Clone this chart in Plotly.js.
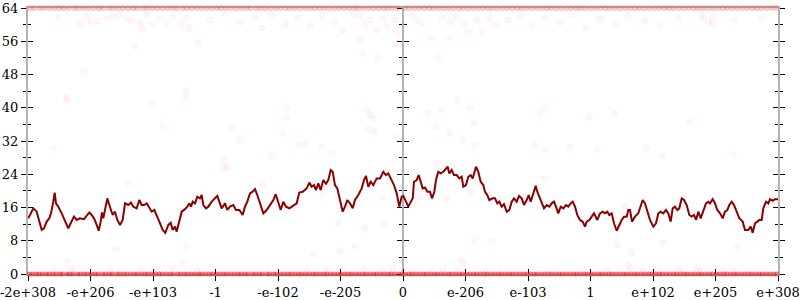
<!DOCTYPE html>
<html>
<head>
<meta charset="utf-8">
<script src="https://cdn.plot.ly/plotly-3.0.1.min.js"></script>
<style>html,body{margin:0;padding:0;background:#fff;}#chart{width:800px;height:300px;}</style>
</head>
<body>
<div id="chart"></div>
<script>
// x axis: position index of each tick and its label
const xTickVals = [-6,-5,-4,-3,-2,-1,0,1,2,3,4,5,6];
const xTickText = ["-2e+308","-e+206","-e+103","-1","-e-102","-e-205","0","e-206","e-103","1","e+102","e+205","e+308"];

// running average (dark red line)
const lineX = [-5.995,-5.915,-5.861,-5.835,-5.781,-5.744,-5.701,-5.659,-5.632,-5.595,-5.573,-5.552,-5.515,-5.461,-5.408,-5.355,-5.317,-5.264,-5.221,-5.168,-5.104,-5.061,-5.019,-4.981,-4.944,-4.901,-4.869,-4.837,-4.816,-4.795,-4.768,-4.731,-4.699,-4.677,-4.645,-4.608,-4.571,-4.528,-4.485,-4.448,-4.395,-4.352,-4.315,-4.261,-4.219,-4.181,-4.144,-4.101,-4.059,-4.021,-3.979,-3.941,-3.899,-3.845,-3.803,-3.755,-3.717,-3.685,-3.648,-3.621,-3.579,-3.541,-3.488,-3.451,-3.419,-3.392,-3.365,-3.328,-3.291,-3.248,-3.221,-3.195,-3.152,-3.115,-3.061,-3.024,
 -2.971,-2.939,-2.901,-2.848,-2.811,-2.768,-2.715,-2.672,-2.619,-2.565,-2.528,-2.491,-2.448,-2.405,-2.368,-2.331,-2.288,-2.235,-2.181,-2.128,-2.075,-2.037,-1.995,-1.957,-1.915,-1.872,-1.819,-1.755,-1.701,-1.659,-1.605,-1.541,-1.499,-1.461,-1.424,-1.392,-1.355,-1.317,-1.275,-1.232,-1.195,-1.157,-1.125,-1.088,-1.051,-1.008,-0.965,-0.928,-0.891,-0.848,-0.805,-0.768,-0.715,-0.661,-0.624,-0.592,-0.555,-0.517,-0.475,-0.421,-0.368,-0.315,-0.272,-0.235,-0.181,-0.144,-0.101,-0.059,-0.021,
 0.005,0.048,0.085,0.112,0.155,0.176,0.219,0.251,0.283,0.315,0.352,0.389,0.432,0.464,0.501,0.528,0.565,0.603,0.645,0.688,0.715,0.741,0.779,0.816,0.859,0.901,0.939,0.965,1.008,1.045,1.083,1.115,1.147,1.168,1.205,1.243,1.285,1.312,1.349,1.381,1.435,1.472,1.509,1.541,1.579,1.616,1.659,1.701,1.739,1.776,1.819,1.856,1.899,1.936,1.979,2.011,2.043,2.085,2.123,2.149,2.181,2.219,2.256,2.299,2.341,2.379,2.416,2.448,2.485,2.523,2.565,2.608,2.645,2.683,2.715,2.752,2.789,2.832,2.875,2.912,2.939,2.981,3.019,3.056,
 3.109,3.152,3.195,3.232,3.269,3.301,3.339,3.376,3.419,3.461,3.499,3.536,3.579,3.605,3.632,3.664,3.712,3.765,3.803,3.835,3.872,3.909,3.952,4.005,4.048,4.085,4.123,4.165,4.208,4.245,4.283,4.315,4.352,4.389,4.421,4.459,4.496,4.539,4.581,4.619,4.656,4.688,4.725,4.763,4.805,4.848,4.885,4.912,4.955,4.992,5.029,5.072,5.115,5.152,5.189,5.221,5.259,5.296,5.339,5.381,5.435,5.472,5.525,5.563,5.595,5.632,5.669,5.701,5.739,5.765,5.808,5.845,5.872,5.915,5.952,6.0];
const lineY = [13.4,15.8,15.0,13.4,10.6,11.0,12.6,13.4,14.6,17.4,19.6,17.0,16.2,14.6,13.0,11.0,12.2,13.8,13.0,13.4,13.2,14.0,14.8,14.2,13.4,11.8,10.4,12.6,14.8,13.4,15.4,18.2,16.6,15.4,14.2,15.0,13.0,11.8,13.0,17.0,16.6,17.2,16.2,15.8,17.8,16.6,16.6,17.0,15.8,15.0,15.4,14.2,12.6,10.6,9.9,11.8,12.3,10.6,11.4,10.2,13.0,15.0,15.6,16.2,17.0,16.2,17.4,17.0,18.6,18.2,19.0,16.6,15.8,16.2,17.4,18.0,
 18.8,17.4,15.8,17.0,15.4,16.2,16.6,15.4,15.4,14.2,16.2,17.4,19.4,19.8,20.4,19.0,17.0,14.6,15.4,16.6,17.8,19.2,17.4,15.4,17.4,16.2,15.8,16.4,17.0,19.6,19.8,20.6,22.0,21.0,21.4,20.2,21.8,20.2,22.6,21.7,22.6,25.0,24.6,21.4,20.6,17.8,15.0,16.2,17.8,17.0,15.8,17.8,19.0,20.6,22.6,23.6,21.0,22.2,21.4,23.0,23.0,24.6,23.8,24.2,22.6,21.4,19.4,16.2,18.6,
 18.8,17.4,16.2,17.0,18.2,22.2,22.6,23.8,22.2,20.6,20.8,19.8,19.8,18.2,19.8,22.6,24.6,24.2,24.6,25.4,25.8,24.2,25.0,23.8,23.8,23.0,23.4,21.0,21.4,23.4,23.8,23.0,25.0,25.8,24.6,22.2,21.4,19.8,19.0,17.8,18.2,18.2,17.0,17.4,16.2,16.8,15.0,15.4,17.4,18.2,17.4,18.8,18.2,16.6,17.8,19.0,17.4,19.2,21.2,19.8,18.6,17.4,15.8,16.6,16.2,17.0,17.4,16.2,14.6,16.2,15.8,16.6,16.2,17.0,17.4,16.2,14.2,13.0,12.6,11.4,12.6,13.0,13.8,14.6,
 13.0,14.6,15.0,14.6,15.0,14.2,14.6,12.2,10.4,11.8,13.0,13.8,13.8,15.4,15.4,12.6,13.8,14.6,16.2,17.8,17.0,15.0,13.0,11.4,12.2,14.6,15.0,14.6,15.4,14.6,12.6,15.8,16.2,15.4,15.8,18.2,17.8,16.6,14.2,13.8,14.2,13.0,15.0,13.4,15.4,17.0,17.4,17.0,18.0,17.0,15.4,14.6,13.4,15.0,15.4,16.6,17.4,16.6,15.0,13.4,12.6,10.6,10.6,11.4,9.9,12.2,12.6,13.0,13.0,15.8,17.4,17.0,18.0,17.6,18.0,18.0];

// samples that sit exactly at 0 and at 64
const zeroX = [-5.98,-5.93,-5.87,-5.82,-5.77,-5.71,-5.66,-5.6,-5.55,-5.49,-5.45,-5.38,-5.33,-5.28,-5.21,-5.16,-5.1,-5.05,-4.99,-4.93,-4.88,-4.81,-4.76,-4.7,-4.65,-4.58,-4.53,-4.47,-4.42,-4.36,-4.3,-4.25,-4.19,-4.13,-4.08,-4.02,-3.96,-3.9,-3.85,-3.79,-3.73,-3.68,-3.61,-3.56,-3.5,-3.45,-3.39,-3.33,-3.27,-3.22,-3.16,-3.1,-3.05,-2.99,-2.93,-2.87,-2.82,-2.76,-2.7,-2.64,-2.59,-2.53,-2.48,-2.41,-2.36,-2.3,-2.25,-2.18,-2.13,-2.07,-2.02,-1.96,-1.9,-1.84,-1.79,-1.73,-1.67,-1.62,-1.56,-1.5,-1.44,-1.39,-1.33,-1.27,-1.22,-1.16,-1.1,-1.04,-0.99,-0.93,-0.87,-0.82,-0.76,-0.7,-0.64,-0.59,-0.53,-0.47,-0.42,-0.36,-0.3,-0.24,-0.19,-0.13,-0.07,-0.02,0.04,0.1,0.15,0.21,0.27,0.33,0.38,0.44,0.5,0.55,0.61,0.67,0.73,0.78,0.84,0.9,0.95,1.01,1.07,1.13,1.18,1.24,1.3,1.35,1.41,1.47,1.53,1.58,1.64,1.7,1.75,1.81,1.87,1.93,1.98,2.04,2.1,2.15,2.21,2.27,2.33,2.38,2.44,2.5,2.55,2.61,2.67,2.73,2.78,2.84,2.9,2.95,3.01,3.07,3.13,3.18,3.24,3.3,3.35,3.41,3.47,3.53,3.58,3.64,3.7,3.75,3.81,3.87,3.93,3.98,4.04,4.1,4.15,4.21,4.27,4.33,4.38,4.44,4.5,4.55,4.61,4.67,4.73,4.78,4.84,4.9,4.95,5.01,5.07,5.13,5.18,5.24,5.3,5.35,5.41,5.47,5.53,5.58,5.64,5.7,5.75,5.81,5.87,5.93,5.98];
const fullX = [-5.97,-5.9,-5.81,-5.74,-5.66,-5.58,-5.5,-5.43,-5.35,-5.26,-5.19,-5.11,-5.03,-4.95,-4.87,-4.8,-4.71,-4.64,-4.56,-4.48,-4.4,-4.32,-4.25,-4.16,-4.09,-4.01,-3.93,-3.85,-3.77,-3.69,-3.62,-3.53,-3.46,-3.38,-3.3,-3.22,-3.14,-3.06,-2.98,-2.91,-2.83,-2.75,-2.67,-2.59,-2.51,-2.44,-2.35,-2.28,-2.2,-2.12,-2.04,-1.96,-1.88,-1.81,-1.73,-1.65,-1.57,-1.49,-1.41,-1.33,-1.26,-1.18,-1.1,-1.02,-0.94,-0.86,-0.78,-0.71,-0.63,-0.55,-0.47,-0.39,-0.31,-0.24,-0.16,-0.08,0.03,0.1,0.18,0.26,0.34,0.42,0.49,0.57,0.65,0.73,0.81,0.89,0.96,1.04,1.12,1.2,1.28,1.36,1.43,1.51,1.59,1.67,1.75,1.83,1.9,1.98,2.06,2.14,2.22,2.3,2.37,2.45,2.53,2.61,2.69,2.77,2.84,2.92,3.0,3.08,3.16,3.24,3.31,3.39,3.47,3.55,3.63,3.71,3.78,3.86,3.94,4.02,4.1,4.18,4.25,4.33,4.41,4.49,4.57,4.65,4.72,4.8,4.88,4.96,5.04,5.12,5.19,5.27,5.35,5.43,5.51,5.59,5.66,5.74,5.82,5.9,5.97];

// other individual samples (faint dots)
const dotX = [-5.515,-5.168,-5.056,-4.997,-4.88,-4.741,-4.64,-4.544,-4.421,-4.341,-4.288,-4.208,-4.165,-4.101,-3.995,-3.888,-3.781,-3.675,-3.541,-3.461,-3.419,-3.275,-5.104,-5.381,-3.472,-3.472,
 -0.795,-0.688,-0.608,-0.528,-0.421,-0.315,-0.261,-0.128,-0.101,0.032,0.139,0.219,0.299,0.459,0.565,0.619,0.725,0.752,0.859,0.992,1.045,1.179,1.259,1.392,1.499,-0.688,-0.635,-0.101,-0.4,
 -3.088,-2.848,-2.608,-2.368,-2.256,-2.096,-1.888,-1.68,-1.488,-1.296,-1.088,-0.96,1.68,1.872,2.064,2.272,2.512,2.704,2.912,3.152,3.392,3.6,3.872,4.112,4.4,4.779,4.805,4.885,4.939,4.965,5.312,5.739,
 -5.595,-5.381,-4.395,-4.021,-3.835,-2.875,-2.864,-2.821,-2.741,-2.608,-2.235,-2.101,-1.925,-1.861,-1.861,-1.675,-1.568,-1.301,-1.275,-1.141,-0.581,-0.528,-0.475,-0.555,-0.448,-0.315,-0.101,0.405,0.619,0.859,1.072,0.523,0.741,1.136,0.955,1.152,0.555,0.272,0.699,1.083,2.112,2.256,2.256,2.192,2.256,2.672,2.981,3.099,3.392,3.888,4.155,4.592,5.285,3.557,
 -4.581,-5.381,-3.461,-3.525,-1.035,-1.008,-0.768,-1.435,-0.608,-0.315,1.152,1.419,0.965,0.939,3.419,3.659,4.165,5.339,3.605,4.699,
 -5.595,-5.301,-4.688,-4.181,-3.941,-3.675,-3.301,-1.541,-1.221,-0.955,-0.635,-0.341,-0.155,0.165,0.459,0.645,0.859,1.312,3.259,3.632,3.845,4.112,4.432,4.752,5.125,5.285];
const dotY = [61.8,60.2,61.9,60.7,60.9,61.5,61.9,62.3,61.5,60.9,54.9,60.3,59.1,62.3,60.2,61.5,60.3,61.9,60.2,61.9,59.1,55.5,48.7,42.5,44.1,42.5,
 62.3,61.9,59.9,61.1,58.7,61.5,59.5,61.1,57.9,59.9,62.3,61.1,60.3,56.7,52.3,61.9,56.7,60.7,61.9,60.3,58.3,61.1,58.3,61.5,59.9,56.3,53.1,55.5,52.0,
 61.1,62.6,60.6,61.8,59.2,62.3,60.2,61.6,59.7,62.1,60.6,58.7,61.1,62.1,59.7,61.6,60.6,62.3,59.2,61.4,60.2,62.1,60.9,59.7,61.6,62.3,61.5,60.7,60.2,61.9,61.1,61.5,
 30.4,41.9,21.8,41.1,35.3,27.6,25.7,25.7,35.4,32.2,21.4,28.4,33.9,37.7,39.9,31.0,31.4,30.6,19.4,29.0,39.6,38.3,37.5,34.8,34.2,18.2,33.0,38.7,39.6,41.9,39.9,35.3,33.9,36.3,32.4,30.8,26.5,18.5,18.0,19.4,30.9,29.7,22.9,38.7,39.9,30.5,37.7,30.0,38.5,30.2,28.4,36.6,28.6,16.4,
 5.9,3.0,6.6,2.6,12.2,5.4,6.6,4.8,11.0,12.0,8.2,7.8,2.6,3.4,7.0,5.1,7.5,6.6,2.2,1.4,
 1.0,1.2,0.8,1.1,0.9,1.3,0.7,1.0,1.2,0.8,1.1,0.9,1.3,0.7,1.0,1.2,0.8,1.1,0.9,1.3,0.7,1.0,1.2,0.8,1.1,0.9];

const FONT = {family: 'DejaVu Serif', size: 13, color: '#000'};
const AXIS_GRAY = '#b4b4b4';

const traces = [
  {type: 'scatter', mode: 'markers', x: dotX, y: dotY, hoverinfo: 'skip', showlegend: false,
   marker: {size: 6, color: 'rgba(255,0,0,0.03)', line: {width: 1, color: 'rgba(255,0,0,0.045)'}}},
  {type: 'scatter', mode: 'markers', x: fullX, y: fullX.map(() => 64), hoverinfo: 'skip', showlegend: false, cliponaxis: false,
   marker: {size: 6, color: 'rgba(240,40,40,0.25)', line: {width: 0}}},
  {type: 'scatter', mode: 'markers', x: zeroX, y: zeroX.map(() => 0), hoverinfo: 'skip', showlegend: false, cliponaxis: false,
   marker: {size: 5, color: 'rgba(225,20,20,0.55)', line: {width: 0}}},
  {type: 'scatter', mode: 'lines', x: lineX, y: lineY, hoverinfo: 'skip', showlegend: false,
   line: {color: '#8b0000', width: 2}},
  {type: 'scatter', x: [], y: [], xaxis: 'x2', yaxis: 'y', showlegend: false},
  {type: 'scatter', x: [], y: [], xaxis: 'x', yaxis: 'y2', showlegend: false},
  {type: 'scatter', x: [], y: [], xaxis: 'x', yaxis: 'y3', showlegend: false},
  {type: 'scatter', x: [], y: [], xaxis: 'x', yaxis: 'y4', showlegend: false},
  {type: 'scatter', x: [], y: [], xaxis: 'x', yaxis: 'y5', showlegend: false},
  {type: 'scatter', x: [], y: [], xaxis: 'x', yaxis: 'y6', showlegend: false}
];

function yAx(extra) {
  return Object.assign({
    range: [0, 64], autorange: false, tick0: 0, dtick: 8, ticklen: 5, tickwidth: 1, tickcolor: '#000',
    showgrid: false, zeroline: false, showticklabels: false, fixedrange: true, layer: 'below traces'
  }, extra);
}
function minorT(dir) {
  return {tick0: 0, dtick: 4, ticks: dir, ticklen: 3, tickwidth: 1, tickcolor: '#000', showgrid: false};
}

const layout = {
  width: 800, height: 300,
  margin: {l: 28, r: 22, t: 8, b: 26, pad: 0},
  paper_bgcolor: '#fff', plot_bgcolor: '#fff',
  showlegend: false,
  font: FONT,
  xaxis: {range: [-6, 6], autorange: false, tickmode: 'array', tickvals: xTickVals, ticktext: xTickText,
    ticks: 'outside', ticklen: 5, tickwidth: 1, tickcolor: '#000', tickfont: FONT, ticklabeloverflow: 'allow',
    showline: true, linecolor: AXIS_GRAY, linewidth: 2, mirror: true,
    showgrid: false, zeroline: false, fixedrange: true, layer: 'below traces'},
  xaxis2: {overlaying: 'x', anchor: 'y', side: 'bottom', range: [-6, 6], autorange: false,
    tickmode: 'array', tickvals: xTickVals, ticks: 'inside', ticklen: 5, tickwidth: 1, tickcolor: '#000',
    showticklabels: false, showline: false, showgrid: false, zeroline: false, fixedrange: true, layer: 'below traces'},
  yaxis: yAx({ticks: 'outside', minor: minorT('outside'),
    showticklabels: true, tickfont: FONT, showline: true, linecolor: AXIS_GRAY, linewidth: 2}),
  yaxis2: yAx({overlaying: 'y', anchor: 'x', side: 'left', ticks: 'inside', minor: minorT('inside')}),
  yaxis3: yAx({overlaying: 'y', anchor: 'free', position: 0.5, side: 'left', ticks: 'outside', minor: minorT('outside'),
    showline: true, linecolor: AXIS_GRAY, linewidth: 2}),
  yaxis4: yAx({overlaying: 'y', anchor: 'free', position: 0.5, side: 'left', ticks: 'inside', minor: minorT('inside')}),
  yaxis5: yAx({overlaying: 'y', anchor: 'x', side: 'right', ticks: 'outside', minor: minorT('outside'),
    showline: true, linecolor: AXIS_GRAY, linewidth: 2}),
  yaxis6: yAx({overlaying: 'y', anchor: 'x', side: 'right', ticks: 'inside', minor: minorT('inside')})
};

Plotly.newPlot('chart', traces, layout, {staticPlot: true, displayModeBar: false});
</script>
</body>
</html>
